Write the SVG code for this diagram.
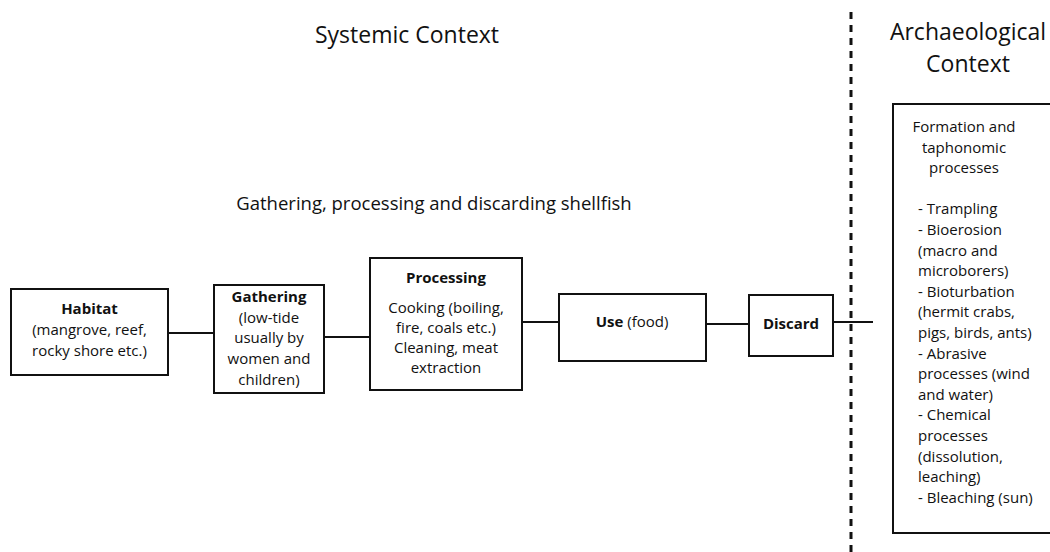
<svg xmlns="http://www.w3.org/2000/svg" width="1050" height="552" viewBox="0 0 1050 552">
<style>
text{font-family:"Open Sans","Noto Sans","Liberation Sans",sans-serif;fill:#111;}
.t{font-size:23px;text-anchor:middle;}
.s{font-size:18.5px;text-anchor:middle;}
.b{font-size:15px;text-anchor:middle;}
.l{font-size:15px;}
.bold{font-weight:bold;}
.box{fill:#fff;stroke:#111;stroke-width:2;}
.c{stroke:#111;stroke-width:2;fill:none;}
</style>
<rect width="1050" height="552" fill="#fff"/>
<text class="t" x="407" y="43">Systemic Context</text>
<text class="t" x="968" y="40">Archaeological</text>
<text class="t" x="968" y="72">Context</text>
<text class="s" x="434" y="210">Gathering, processing and discarding shellfish</text>
<g id="connectors">
<line class="c" x1="168" y1="333" x2="214" y2="333"/>
<line class="c" x1="324" y1="337" x2="370" y2="337"/>
<line class="c" x1="522" y1="322" x2="559" y2="322"/>
<line class="c" x1="706" y1="324" x2="749" y2="324"/>
<line class="c" x1="833" y1="322" x2="873" y2="322"/>
<line id="divider" x1="851" y1="12" x2="851" y2="552" stroke="#111" stroke-width="3" stroke-dasharray="7 6"/>
</g>
<g id="habitat">
<rect class="box" x="11" y="289" width="157" height="86"/>
<text class="b bold" x="89.5" y="314">Habitat</text>
<text class="b" x="89.5" y="335">(mangrove, reef,</text>
<text class="b" x="89.5" y="356">rocky shore etc.)</text>
</g>
<g id="gathering">
<rect class="box" x="214" y="285" width="110" height="108"/>
<text class="b bold" x="269" y="302">Gathering</text>
<text class="b" x="269" y="323">(low-tide</text>
<text class="b" x="269" y="343">usually by</text>
<text class="b" x="269" y="364">women and</text>
<text class="b" x="269" y="385">children)</text>
</g>
<g id="processing">
<rect class="box" x="370" y="258" width="152" height="132"/>
<text class="b bold" x="446" y="283">Processing</text>
<text class="b" x="446" y="313">Cooking (boiling,</text>
<text class="b" x="446" y="333">fire, coals etc.)</text>
<text class="b" x="446" y="353">Cleaning, meat</text>
<text class="b" x="446" y="373">extraction</text>
</g>
<g id="use">
<rect class="box" x="559" y="294" width="147" height="67"/>
<text class="b" x="632" y="327"><tspan font-weight="bold">Use</tspan> (food)</text>
</g>
<g id="discard">
<rect class="box" x="749" y="295" width="84" height="61"/>
<text class="b bold" x="791" y="329">Discard</text>
</g>
<g id="formation">
<rect class="box" x="893" y="104" width="170" height="429"/>
<text class="b" x="964" y="132">Formation and</text>
<text class="b" x="964" y="152.6">taphonomic</text>
<text class="b" x="964" y="173.2">processes</text>
<text class="l" x="918" y="214.4">- Trampling</text>
<text class="l" x="918" y="235">- Bioerosion</text>
<text class="l" x="918" y="255.6">(macro and</text>
<text class="l" x="918" y="276.2">microborers)</text>
<text class="l" x="918" y="296.8">- Bioturbation</text>
<text class="l" x="918" y="317.4">(hermit crabs,</text>
<text class="l" x="918" y="338">pigs, birds, ants)</text>
<text class="l" x="918" y="358.6">- Abrasive</text>
<text class="l" x="918" y="379.2">processes (wind</text>
<text class="l" x="918" y="399.8">and water)</text>
<text class="l" x="918" y="420.4">- Chemical</text>
<text class="l" x="918" y="441">processes</text>
<text class="l" x="918" y="461.6">(dissolution,</text>
<text class="l" x="918" y="482.2">leaching)</text>
<text class="l" x="918" y="502.8">- Bleaching (sun)</text>
</g>
</svg>
